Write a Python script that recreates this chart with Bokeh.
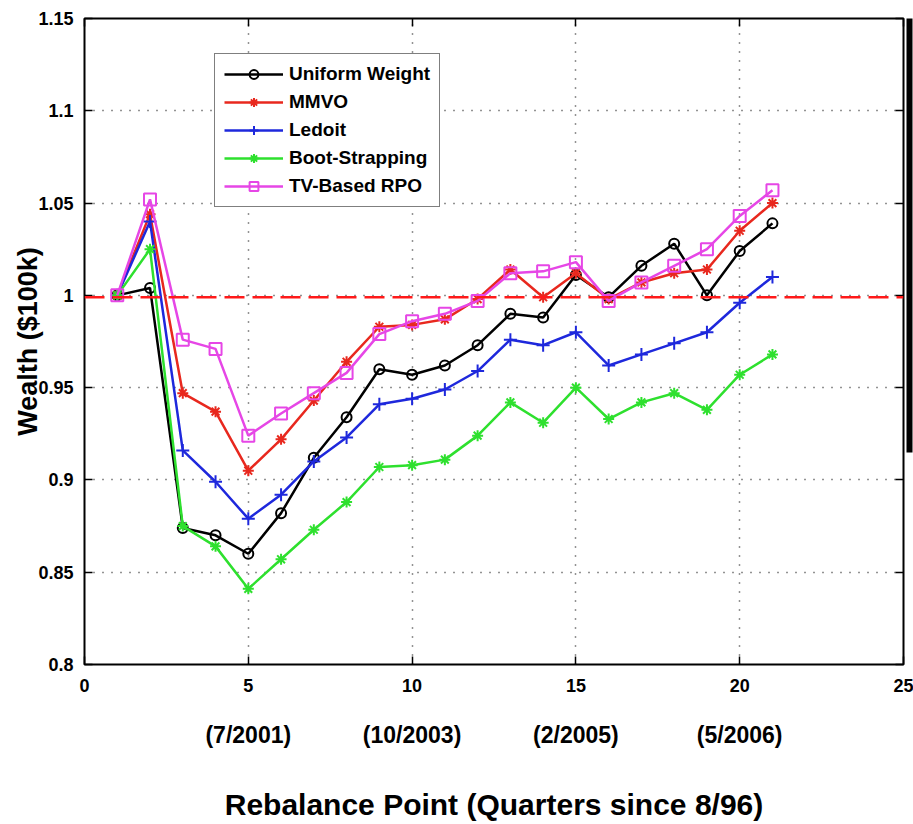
from bokeh.plotting import figure
from bokeh.models import (LinearAxis, FixedTicker, Span, Legend, LegendItem,
                          NumeralTickFormatter, CustomJSTickFormatter)
from bokeh.embed import file_html
from bokeh.resources import INLINE

# ---------------- data ----------------
rebalance = list(range(1, 22))
uniform_weight = [1.000, 1.004, 0.874, 0.870, 0.860, 0.882, 0.912, 0.934, 0.960, 0.957, 0.962,
                  0.973, 0.990, 0.988, 1.011, 0.999, 1.016, 1.028, 1.000, 1.024, 1.039]
mmvo = [1.000, 1.044, 0.947, 0.937, 0.905, 0.922, 0.943, 0.964, 0.983, 0.984, 0.987,
        0.998, 1.014, 0.999, 1.012, 0.998, 1.007, 1.012, 1.014, 1.035, 1.050]
ledoit = [1.000, 1.040, 0.916, 0.899, 0.879, 0.892, 0.910, 0.923, 0.941, 0.944, 0.949,
          0.959, 0.976, 0.973, 0.980, 0.962, 0.968, 0.974, 0.980, 0.996, 1.010]
boot_strapping = [1.000, 1.025, 0.875, 0.864, 0.841, 0.857, 0.873, 0.888, 0.907, 0.908, 0.911,
                  0.924, 0.942, 0.931, 0.950, 0.933, 0.942, 0.947, 0.938, 0.957, 0.968]
tv_based_rpo = [1.000, 1.052, 0.976, 0.971, 0.924, 0.936, 0.947, 0.958, 0.979, 0.986, 0.990,
                0.997, 1.012, 1.013, 1.018, 0.997, 1.007, 1.016, 1.025, 1.043, 1.057]
series_names = ["Uniform Weight", "MMVO", "Ledoit", "Boot-Strapping", "TV-Based RPO"]
reference_level = 0.999

x_ticks = [0, 5, 10, 15, 20, 25]
y_ticks = [0.8, 0.85, 0.9, 0.95, 1.0, 1.05, 1.1, 1.15]
date_ticks = [5, 10, 15, 20]
date_labels = ["(7/2001)", "(10/2003)", "(2/2005)", "(5/2006)"]

FONT = "Liberation Sans"

p = figure(width=913, height=824, x_range=(0, 25), y_range=(0.8, 1.15),
           output_backend="svg", toolbar_location=None,
           min_border_left=84, min_border_right=10, min_border_top=18, min_border_bottom=160)
p.outline_line_color = "black"
p.outline_line_width = 2
p.background_fill_color = "white"
p.border_fill_color = "white"

# primary axes
xa = p.below[0]
ya = p.left[0]
xa.ticker = FixedTicker(ticks=x_ticks)
ya.ticker = FixedTicker(ticks=y_ticks)
ya.formatter = NumeralTickFormatter(format="0.[00]")
for ax in (xa, ya):
    ax.axis_line_color = None
    ax.major_tick_in = 8
    ax.major_tick_out = 0
    ax.major_tick_line_color = "black"
    ax.major_tick_line_width = 1.5
    ax.minor_tick_line_color = None
    ax.major_label_text_font = FONT
    ax.major_label_text_font_style = "bold"
    ax.major_label_text_font_size = "18px"
    ax.major_label_text_color = "black"
xa.major_label_standoff = 14
ya.major_label_standoff = 11
ya.axis_label = "Wealth ($100k)"
ya.axis_label_text_font = FONT
ya.axis_label_text_font_style = "bold"
ya.axis_label_text_font_size = "27px"
ya.axis_label_text_color = "black"
ya.axis_label_standoff = -8

# date axis below
date_axis = LinearAxis(ticker=FixedTicker(ticks=date_ticks),
                       major_label_overrides=dict(zip(date_ticks, date_labels)))
date_axis.axis_line_color = None
date_axis.major_tick_line_color = None
date_axis.minor_tick_line_color = None
date_axis.major_label_text_font = FONT
date_axis.major_label_text_font_style = "bold"
date_axis.major_label_text_font_size = "23px"
date_axis.major_label_text_color = "black"
date_axis.major_label_standoff = 21
date_axis.axis_label = "Rebalance Point (Quarters since 8/96)"
date_axis.axis_label_text_font = FONT
date_axis.axis_label_text_font_style = "bold"
date_axis.axis_label_text_font_size = "30px"
date_axis.axis_label_text_color = "black"
date_axis.axis_label_standoff = 37
p.add_layout(date_axis, "below")

# box ticks (top/right); the right one reserves a few pixels before the edge bar
blank = CustomJSTickFormatter(code="return ''")
top_axis = LinearAxis(ticker=FixedTicker(ticks=x_ticks), formatter=blank)
right_axis = LinearAxis(ticker=FixedTicker(ticks=y_ticks), formatter=blank)
for ax in (top_axis, right_axis):
    ax.axis_line_color = None
    ax.major_tick_in = 8
    ax.major_tick_out = 0
    ax.major_tick_line_width = 1.5
    ax.minor_tick_line_color = None
    ax.major_label_standoff = 0
right_axis.major_tick_out = 6
right_axis.major_tick_in = 14
right_axis.major_tick_line_color = None
p.add_layout(top_axis, "above")
p.add_layout(right_axis, "right")

# inward right-side ticks drawn by a second, zero-width axis
right_ticks = LinearAxis(ticker=FixedTicker(ticks=y_ticks), formatter=blank)
right_ticks.axis_line_color = None
right_ticks.major_tick_in = 8
right_ticks.major_tick_out = 0
right_ticks.major_tick_line_width = 1.5
right_ticks.minor_tick_line_color = None
right_ticks.major_label_standoff = 0
p.right.insert(0, right_ticks)

# black edge bar at the right border (cropping artifact of the original figure)
edge_axis = LinearAxis(ticker=FixedTicker(ticks=[]), formatter=blank, bounds=(0.915, 1.2))
edge_axis.axis_line_color = "black"
edge_axis.axis_line_width = 6
edge_axis.major_tick_line_color = None
edge_axis.minor_tick_line_color = None
edge_axis.major_label_standoff = 0
p.add_layout(edge_axis, "right")

# grid
for g in (p.xgrid[0], p.ygrid[0]):
    g.grid_line_color = "black"
    g.grid_line_dash = "1 8"
    g.grid_line_width = 1.5
    g.grid_line_alpha = 0.85

p.add_layout(Span(location=reference_level, dimension="width", line_color="#ff1a1a",
                  line_dash="20 8", line_width=2.5))

colors = ["#000000", "#e8281e", "#1e28dc", "#2ee02e", "#e646e6"]
markers = ["circle", "asterisk", "cross", "asterisk", "square"]
sizes = [10, 11, 13, 11, 12]
values = [uniform_weight, mmvo, ledoit, boot_strapping, tv_based_rpo]

items = []
for name, ys, c, m, s in zip(series_names, values, colors, markers, sizes):
    lr = p.line(rebalance, ys, line_color=c, line_width=2.5)
    sr = p.scatter(rebalance, ys, marker=m, size=s, line_color=c, line_width=2,
                   fill_color=None)
    items.append(LegendItem(label=name, renderers=[lr, sr]))

legend = Legend(items=items, location=(130, 457))
legend.border_line_color = "black"
legend.border_line_width = 1.5
legend.background_fill_color = "white"
legend.background_fill_alpha = 1
legend.label_text_font = FONT
legend.label_text_font_style = "bold"
legend.label_text_font_size = "19px"
legend.label_text_color = "black"
legend.glyph_width = 59
legend.glyph_height = 22
legend.label_height = 22
legend.spacing = 6
legend.padding = 9
legend.label_standoff = 6
legend.margin = 0
p.add_layout(legend)

open("out.html", "w").write(file_html(p, INLINE))
